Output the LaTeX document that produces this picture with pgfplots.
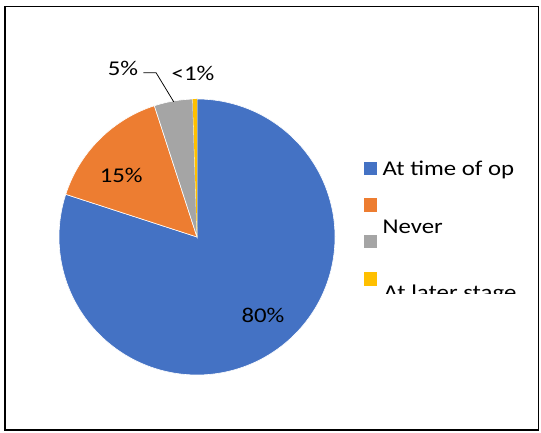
\documentclass[border=0pt]{standalone}
\usepackage{pgfplots}
\pgfplotsset{compat=1.18}
\usepackage{pgfplotstable}
\usepackage{fontspec}
\setmainfont{Carlito}[FakeStretch=1.18]
\definecolor{cblue}{HTML}{4472C4}
\definecolor{corange}{HTML}{ED7D31}
\definecolor{cgray}{HTML}{A5A5A5}
\definecolor{cyellow}{HTML}{FFC000}
\newcommand\labfont{\fontsize{21bp}{25bp}\selectfont}
\pgfplotstableread{
answer value
time 80
never 15
none 4.5
later 0.5
}\piedata
\begin{document}
\begin{tikzpicture}
\pgfplotstablegetelem{0}{value}\of\piedata\edef\vA{\pgfplotsretval}
\pgfplotstablegetelem{1}{value}\of\piedata\edef\vB{\pgfplotsretval}
\pgfplotstablegetelem{2}{value}\of\piedata\edef\vC{\pgfplotsretval}
\pgfplotstablegetelem{3}{value}\of\piedata\edef\vD{\pgfplotsretval}
\pgfmathsetmacro\aA{90}
\pgfmathsetmacro\aB{\aA-3.6*\vA}
\pgfmathsetmacro\aC{\aB-3.6*\vB}
\pgfmathsetmacro\aD{\aC-3.6*\vC}
\pgfmathsetmacro\aE{\aD-3.6*\vD}
\begin{scope}[x=1bp,y=1bp]
\path[use as bounding box] (0,0) rectangle (541,433);
\fill[white] (0,0) rectangle (541,433);
\draw[line width=1.3bp] (5,3) rectangle (538.5,426.5);
\end{scope}
\begin{axis}[at={(197bp,196bp)}, anchor=center, width=276bp, height=276bp,
  scale only axis, hide axis, xmin=-1, xmax=1, ymin=-1, ymax=1, clip=false]
\addplot[fill=cblue, draw=white, line width=0.6bp, domain=\aB:\aA, samples=200, variable=\t]
  ({cos(\t)}, {sin(\t)}) -- (axis cs:0,0) -- cycle;
\addplot[fill=corange, draw=white, line width=0.6bp, domain=\aC:\aB, samples=40, variable=\t]
  ({cos(\t)}, {sin(\t)}) -- (axis cs:0,0) -- cycle;
\addplot[fill=cgray, draw=white, line width=0.6bp, domain=\aD:\aC, samples=20, variable=\t]
  ({cos(\t)}, {sin(\t)}) -- (axis cs:0,0) -- cycle;
\addplot[fill=cyellow, draw=none, domain=\aE:\aD, samples=5, variable=\t]
  ({cos(\t)}, {sin(\t)}) -- (axis cs:0,0) -- cycle;
\node[font=\labfont, inner sep=0pt] at (axis cs:0.478,-0.565) {80\%};
\node[font=\labfont, inner sep=0pt] at (axis cs:-0.549,0.449) {15\%};
\node[font=\labfont, inner sep=0pt] at (axis cs:-0.536,1.225) {5\%};
\node[font=\labfont, inner sep=0pt] at (axis cs:-0.029,1.188) {<1\%};
\draw[line width=0.75bp] (axis cs:-0.388,1.191) -- (axis cs:-0.297,1.191) -- (axis cs:-0.169,0.980);
\end{axis}
\begin{scope}[x=1bp,y=1bp, every node/.style={font=\labfont, inner sep=0pt, anchor=base west}]
\fill[cblue] (363.5,257.7) rectangle (377,271.3);
\fill[corange] (363.5,221.3) rectangle (377,234.7);
\fill[cgray] (363.5,184.7) rectangle (377,198);
\fill[cyellow] (363.5,147.3) rectangle (377,161.3);
\node at (382.5,257) {At time of op};
\node at (382.5,199.7) {Never};
\begin{scope}
\clip (370,139.7) rectangle (541,170);
\node at (383.5,133.5) {At later stage};
\end{scope}
\end{scope}
\end{tikzpicture}
\end{document}
